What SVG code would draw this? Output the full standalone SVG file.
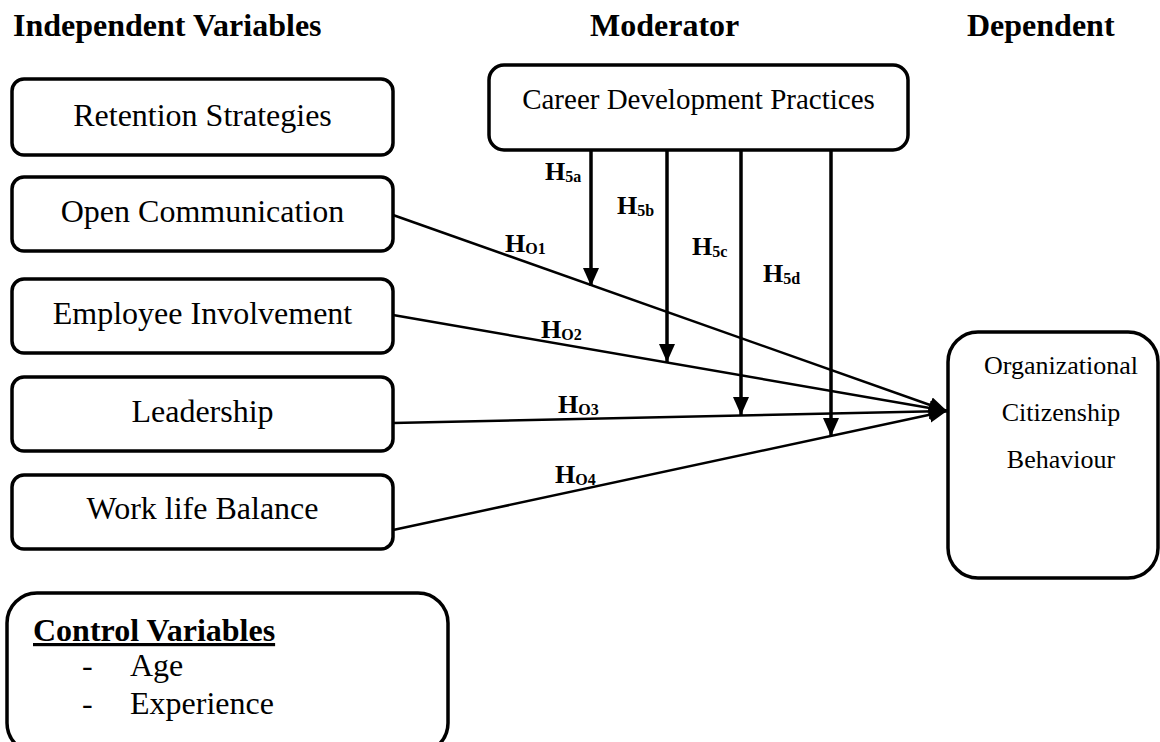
<svg xmlns="http://www.w3.org/2000/svg" width="1160" height="742" viewBox="0 0 1160 742">
<defs>
<style>
.box{fill:#fff;stroke:#000;stroke-width:3.5}
.t{font-family:"Liberation Serif","Times New Roman",serif;fill:#000}
.lbl{font-size:32px;text-anchor:middle}
.hd{font-size:32px;font-weight:bold}
.h{font-size:26px;font-weight:bold}
.sub{font-size:16px;font-weight:bold}
.c{fill:none;stroke:#000}
.mod{stroke-width:3.5}
.main{stroke-width:2.5}
</style>
<marker id="ah" markerUnits="userSpaceOnUse" markerWidth="20" markerHeight="16" refX="18" refY="8" orient="auto">
<path d="M0,0 L18,8 L0,16 Z" fill="#000"/>
</marker>
</defs>
<rect width="1160" height="742" fill="#fff"/>
<g id="headings">
<text class="t hd" x="13" y="36">Independent Variables</text>
<text class="t hd" x="590" y="36">Moderator</text>
<text class="t hd" x="967" y="36">Dependent</text>
</g>
<g id="retention"><rect class="box" x="12" y="79" width="381" height="76" rx="12"/><text class="t lbl" x="202.5" y="126">Retention Strategies</text></g>
<g id="open-communication"><rect class="box" x="12" y="177" width="381" height="74" rx="12"/><text class="t lbl" x="202.5" y="222">Open Communication</text></g>
<g id="employee-involvement"><rect class="box" x="12" y="279" width="381" height="74" rx="12"/><text class="t lbl" x="202.5" y="324">Employee Involvement</text></g>
<g id="leadership"><rect class="box" x="12" y="377" width="381" height="74" rx="12"/><text class="t lbl" x="202.5" y="422">Leadership</text></g>
<g id="work-life-balance"><rect class="box" x="12" y="475" width="381" height="74" rx="12"/><text class="t lbl" x="202.5" y="519">Work life Balance</text></g>
<g id="career-development"><rect class="box" x="489" y="65" width="419" height="85" rx="15"/><text class="t" x="698.5" y="109" font-size="29" text-anchor="middle">Career Development Practices</text></g>
<g id="ocb"><rect class="box" x="948" y="332" width="210" height="246" rx="30"/>
<text class="t" x="1061" y="374" font-size="26" text-anchor="middle">Organizational</text>
<text class="t" x="1061" y="421" font-size="26" text-anchor="middle">Citizenship</text>
<text class="t" x="1061" y="468" font-size="26" text-anchor="middle">Behaviour</text></g>
<g id="control-variables"><rect class="box" x="7" y="593" width="441" height="160" rx="30"/>
<text class="t hd" x="33" y="641" text-decoration="underline">Control Variables</text>
<text class="t" x="82" y="676" font-size="32">-</text><text class="t" x="130" y="676" font-size="32">Age</text>
<text class="t" x="82" y="714" font-size="32">-</text><text class="t" x="130" y="714" font-size="32">Experience</text></g>
<g id="connectors">
<line class="c main" x1="393" y1="215" x2="947" y2="411" marker-end="url(#ah)"/>
<line class="c main" x1="393" y1="315" x2="947" y2="411" marker-end="url(#ah)"/>
<line class="c main" x1="393" y1="423" x2="947" y2="411" marker-end="url(#ah)"/>
<line class="c main" x1="393" y1="530" x2="947" y2="411" marker-end="url(#ah)"/>
<line class="c mod" x1="591" y1="150" x2="591" y2="286" marker-end="url(#ah)"/>
<line class="c mod" x1="667" y1="150" x2="667" y2="362" marker-end="url(#ah)"/>
<line class="c mod" x1="741" y1="150" x2="741" y2="415" marker-end="url(#ah)"/>
<line class="c mod" x1="831" y1="150" x2="831" y2="436" marker-end="url(#ah)"/>
</g>
<g id="labels">
<text class="t" x="545" y="180"><tspan class="h">H</tspan><tspan class="sub" dy="2">5a</tspan></text>
<text class="t" x="617" y="214"><tspan class="h">H</tspan><tspan class="sub" dy="2">5b</tspan></text>
<text class="t" x="692" y="255"><tspan class="h">H</tspan><tspan class="sub" dy="2">5c</tspan></text>
<text class="t" x="763" y="282"><tspan class="h">H</tspan><tspan class="sub" dy="2">5d</tspan></text>
<text class="t" x="505" y="252"><tspan class="h">H</tspan><tspan class="sub" dy="2">O1</tspan></text>
<text class="t" x="541" y="338"><tspan class="h">H</tspan><tspan class="sub" dy="2">O2</tspan></text>
<text class="t" x="558" y="413"><tspan class="h">H</tspan><tspan class="sub" dy="2">O3</tspan></text>
<text class="t" x="555" y="483"><tspan class="h">H</tspan><tspan class="sub" dy="2">O4</tspan></text>
</g>
</svg>
